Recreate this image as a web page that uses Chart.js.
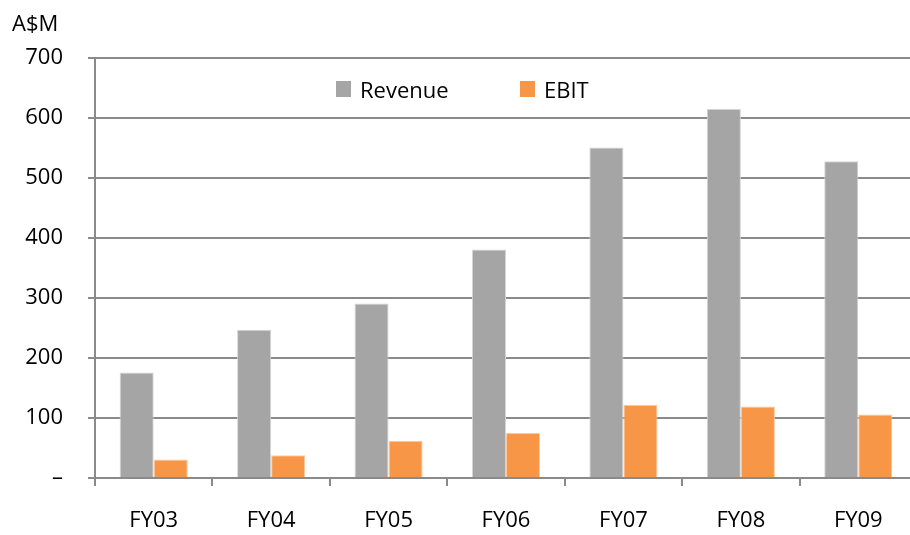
<!DOCTYPE html>
<html>
<head>
<meta charset="utf-8">
<script src="https://cdn.jsdelivr.net/npm/chart.js@4"></script>
<style>
  body { margin: 0; background: #fff; overflow: hidden; }
  #wrap { width: 917px; height: 535px; }
</style>
</head>
<body>
<div id="wrap"><canvas id="myChart" width="917" height="535"></canvas></div>
<script>
// datos
const categorias = ['FY03', 'FY04', 'FY05', 'FY06', 'FY07', 'FY08', 'FY09'];
const ingresos = [176, 247, 291, 381, 551, 615, 528];
const ebit = [31, 38, 62, 75, 122, 119, 106];
const ticksY = [0, 100, 200, 300, 400, 500, 600, 700];

const fuente = "'Open Sans', sans-serif";
const colorLinea = '#8a8a8a';

// leyenda dentro del área del gráfico + título del eje
const leyendaPlugin = {
    id: 'leyendaPropia',
    afterDraw(chart) {
        const c = chart.ctx;
        c.save();
        c.font = '22px ' + fuente;
        c.fillStyle = '#000';
        c.textBaseline = 'alphabetic';
        c.textAlign = 'left';
        c.fillText('A$M', 12, 31);

        const posiciones = [336, 520];
        chart.data.datasets.forEach((ds, i) => {
            const x = posiciones[i];
            c.fillStyle = ds.backgroundColor;
            c.fillRect(x, 81, 15, 16);
            c.fillStyle = '#000';
            c.fillText(ds.label, x + 24, 98);
        });
        c.restore();
    }
};

const ctx = document.getElementById('myChart').getContext('2d');
const myChart = new Chart(ctx, {
    type: 'bar',
    data: {
        labels: categorias,
        datasets: [
            {
                label: 'Revenue',
                data: ingresos,
                backgroundColor: '#a5a5a5',
                borderColor: '#d4d4d4',
                borderWidth: 1
            },
            {
                label: 'EBIT',
                data: ebit,
                backgroundColor: '#f79646',
                borderColor: '#fbc9a0',
                borderWidth: 1
            }
        ]
    },
    options: {
        responsive: false,
        animation: false,
        categoryPercentage: 0.58,
        barPercentage: 1,
        layout: { padding: { top: 58, left: 0, right: 0, bottom: 0 } },
        plugins: {
            legend: { display: false },
            tooltip: { enabled: false }
        },
        scales: {
            x: {
                afterFit(scale) { scale.height = 57; },
                grid: {
                    offset: true,
                    drawOnChartArea: false,
                    drawTicks: true,
                    tickLength: 8,
                    color: colorLinea,
                    lineWidth: 2
                },
                border: { display: true, color: colorLinea, width: 2 },
                ticks: {
                    color: '#000',
                    padding: 22,
                    font: { family: fuente, size: 22 }
                }
            },
            y: {
                min: 0,
                max: 700,
                afterFit(scale) { scale.width = 95; },
                afterBuildTicks(scale) {
                    scale.ticks = ticksY.map(v => ({ value: v }));
                },
                grid: {
                    color: colorLinea,
                    lineWidth: 2,
                    tickLength: 7
                },
                border: { display: true, color: colorLinea, width: 2 },
                ticks: {
                    color: '#000',
                    padding: 25,
                    font: { family: fuente, size: 22 },
                    callback: v => v === 0 ? '–' : v
                }
            }
        }
    },
    plugins: [leyendaPlugin]
});
</script>
</body>
</html>
